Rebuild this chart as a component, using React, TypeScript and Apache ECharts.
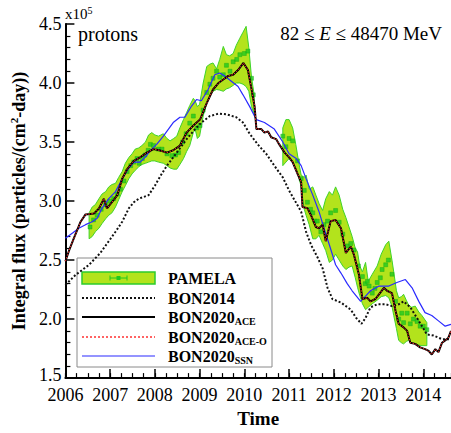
import React, { useEffect, useRef } from 'react';
import * as echarts from 'echarts';

const FONT = '"Liberation Serif", "Times New Roman", serif';

// BON2014 model (black dotted)
const bon2014: number[][] = [
  [2006.00, 2.29], [2006.23, 2.375], [2006.53, 2.46], [2006.78, 2.56], [2006.97, 2.66],
  [2007.12, 2.74], [2007.27, 2.825], [2007.42, 2.94], [2007.53, 2.99], [2007.64, 3.02],
  [2007.75, 3.035], [2007.86, 3.05], [2008.00, 3.13], [2008.12, 3.21], [2008.27, 3.30],
  [2008.49, 3.41], [2008.71, 3.525], [2008.90, 3.61], [2009.04, 3.665], [2009.23, 3.72],
  [2009.42, 3.74], [2009.60, 3.735], [2009.82, 3.71], [2009.97, 3.665], [2010.12, 3.57],
  [2010.30, 3.48], [2010.49, 3.40], [2010.67, 3.30], [2010.86, 3.20], [2011.00, 3.09],
  [2011.12, 3.01], [2011.27, 2.91], [2011.38, 2.74], [2011.49, 2.63], [2011.64, 2.52],
  [2011.75, 2.43], [2011.86, 2.265], [2011.97, 2.17], [2012.16, 2.14], [2012.38, 2.08],
  [2012.50, 2.01], [2012.62, 1.96], [2012.71, 2.01], [2012.82, 2.10], [2012.97, 2.125],
  [2013.16, 2.125], [2013.30, 2.11], [2013.45, 2.125], [2013.56, 2.15], [2013.71, 2.10],
  [2013.90, 1.985], [2014.08, 1.87], [2014.23, 1.86], [2014.42, 1.83], [2014.62, 1.83],
];

// BON2020 ACE (black solid)
const bonAce: number[][] = [
  [2006.00, 2.49], [2006.10, 2.60], [2006.19, 2.685], [2006.27, 2.76], [2006.34, 2.825],
  [2006.45, 2.887], [2006.55, 2.89], [2006.64, 2.895], [2006.75, 2.937], [2006.86, 3.02],
  [2006.93, 2.937], [2007.04, 2.99], [2007.16, 3.05], [2007.27, 3.19], [2007.38, 3.27],
  [2007.53, 3.34], [2007.67, 3.37], [2007.82, 3.41], [2007.97, 3.44], [2008.10, 3.43],
  [2008.27, 3.41], [2008.41, 3.43], [2008.56, 3.47], [2008.71, 3.58], [2008.86, 3.64],
  [2009.01, 3.69], [2009.16, 3.83], [2009.30, 3.945], [2009.42, 4.00], [2009.53, 4.03],
  [2009.64, 4.06], [2009.75, 4.07], [2009.86, 4.11], [2009.98, 4.17], [2010.08, 4.11],
  [2010.16, 3.95], [2010.23, 3.80], [2010.27, 3.61], [2010.38, 3.61], [2010.45, 3.58],
  [2010.53, 3.59], [2010.60, 3.54], [2010.71, 3.525], [2010.78, 3.48], [2010.90, 3.41],
  [2011.00, 3.37], [2011.08, 3.33], [2011.19, 3.23], [2011.27, 3.16], [2011.30, 2.95],
  [2011.41, 2.94], [2011.49, 2.88], [2011.60, 2.78], [2011.67, 2.77], [2011.75, 2.80],
  [2011.82, 2.66], [2011.93, 2.83], [2012.04, 2.84], [2012.16, 2.77], [2012.27, 2.56],
  [2012.38, 2.615], [2012.45, 2.545], [2012.56, 2.38], [2012.64, 2.17], [2012.75, 2.18],
  [2012.82, 2.15], [2012.93, 2.17], [2013.01, 2.21], [2013.12, 2.265], [2013.19, 2.24],
  [2013.30, 2.22], [2013.38, 2.07], [2013.45, 1.96], [2013.56, 1.93], [2013.64, 1.90],
  [2013.71, 1.80], [2013.82, 1.79], [2013.93, 1.76], [2014.04, 1.745], [2014.12, 1.73],
  [2014.19, 1.70], [2014.27, 1.745], [2014.34, 1.72], [2014.42, 1.80], [2014.49, 1.82],
  [2014.56, 1.84], [2014.62, 1.90],
];

// BON2020 ACE-O (red dotted) – indistinguishable from ACE at this scale
const bonAceO: number[][] = bonAce;

// BON2020 SSN (blue)
const bonSsn: number[][] = [
  [2006.00, 2.685], [2006.16, 2.73], [2006.30, 2.77], [2006.45, 2.80], [2006.60, 2.825],
  [2006.71, 2.855], [2006.82, 2.94], [2006.97, 3.02], [2007.12, 3.08], [2007.23, 3.16],
  [2007.38, 3.26], [2007.53, 3.33], [2007.67, 3.33], [2007.78, 3.37], [2007.93, 3.44],
  [2008.04, 3.48], [2008.19, 3.55], [2008.41, 3.665], [2008.56, 3.71], [2008.67, 3.71],
  [2008.82, 3.805], [2008.93, 3.86], [2009.04, 3.85], [2009.19, 3.945], [2009.34, 4.07],
  [2009.45, 4.085], [2009.56, 4.06], [2009.71, 4.015], [2009.86, 3.97], [2009.97, 3.90],
  [2010.12, 3.80], [2010.27, 3.69], [2010.45, 3.665], [2010.67, 3.61], [2010.86, 3.50],
  [2011.00, 3.40], [2011.16, 3.36], [2011.27, 3.30], [2011.38, 3.19], [2011.53, 3.05],
  [2011.67, 2.91], [2011.78, 2.77], [2011.90, 2.63], [2012.04, 2.46], [2012.16, 2.39],
  [2012.30, 2.30], [2012.41, 2.24], [2012.60, 2.15], [2012.71, 2.195], [2012.82, 2.24],
  [2013.01, 2.28], [2013.23, 2.28], [2013.41, 2.31], [2013.60, 2.335], [2013.75, 2.265],
  [2013.90, 2.15], [2014.04, 2.055], [2014.19, 2.03], [2014.34, 1.985], [2014.49, 1.94],
  [2014.62, 1.955],
];

// PAMELA uncertainty band: [time, lower, upper]
const pamelaBand1: number[][] = [
  [2006.53, 2.68, 2.90], [2006.60, 2.70, 2.95], [2006.67, 2.74, 2.97], [2006.75, 2.77, 3.02],
  [2006.82, 2.81, 3.06], [2006.90, 2.85, 3.08], [2006.97, 2.88, 3.12], [2007.04, 2.90, 3.14],
  [2007.12, 2.95, 3.15], [2007.19, 3.01, 3.20], [2007.27, 3.08, 3.25], [2007.34, 3.13, 3.32],
  [2007.42, 3.19, 3.37], [2007.49, 3.23, 3.40], [2007.56, 3.26, 3.44], [2007.64, 3.29, 3.45],
  [2007.71, 3.31, 3.47], [2007.79, 3.32, 3.50], [2007.86, 3.33, 3.56], [2007.93, 3.34, 3.58],
  [2008.00, 3.34, 3.56], [2008.08, 3.33, 3.55], [2008.19, 3.32, 3.57], [2008.27, 3.30, 3.53],
  [2008.34, 3.28, 3.51], [2008.42, 3.27, 3.53], [2008.49, 3.27, 3.55], [2008.56, 3.31, 3.62],
  [2008.64, 3.36, 3.69], [2008.71, 3.42, 3.75], [2008.78, 3.47, 3.81], [2008.86, 3.58, 3.87],
  [2008.90, 3.61, 3.85], [2008.95, 3.53, 3.80], [2009.00, 3.55, 3.82], [2009.08, 3.72, 4.00],
  [2009.16, 3.83, 4.14], [2009.23, 3.89, 4.16], [2009.30, 3.93, 4.17], [2009.38, 3.945, 4.12],
  [2009.45, 3.94, 4.20], [2009.53, 3.93, 4.31], [2009.60, 3.95, 4.24], [2009.67, 3.96, 4.23],
  [2009.75, 3.98, 4.25], [2009.82, 4.00, 4.32], [2009.90, 4.00, 4.38], [2009.97, 3.99, 4.43],
  [2010.04, 3.97, 4.48], [2010.10, 3.93, 4.30], [2010.16, 3.80, 4.05], [2010.22, 3.74, 3.90],
];
const pamelaBand2: number[][] = [
  [2010.86, 3.30, 3.62], [2010.93, 3.33, 3.69], [2011.00, 3.36, 3.69], [2011.08, 3.33, 3.62],
  [2011.15, 3.28, 3.48], [2011.22, 3.20, 3.32], [2011.27, 3.12, 3.22], [2011.34, 2.93, 3.20],
  [2011.38, 2.88, 3.22], [2011.45, 2.80, 3.10], [2011.53, 2.68, 3.12], [2011.60, 2.68, 3.05],
  [2011.67, 2.71, 2.98], [2011.75, 2.64, 2.92], [2011.82, 2.58, 3.02], [2011.90, 2.48, 3.08],
  [2011.97, 2.50, 3.05], [2012.04, 2.55, 3.12], [2012.12, 2.50, 3.05], [2012.20, 2.45, 2.93],
  [2012.27, 2.42, 2.86], [2012.34, 2.44, 2.78], [2012.41, 2.45, 2.70], [2012.48, 2.35, 2.60],
  [2012.53, 2.27, 2.57], [2012.58, 2.20, 2.45], [2012.64, 2.13, 2.40], [2012.71, 2.08, 2.48],
  [2012.77, 2.10, 2.32], [2012.86, 2.13, 2.38], [2012.97, 2.16, 2.45], [2013.06, 2.19, 2.55],
  [2013.16, 2.20, 2.63], [2013.23, 2.18, 2.66], [2013.30, 2.11, 2.50], [2013.34, 2.03, 2.40],
  [2013.40, 1.92, 2.24], [2013.45, 1.82, 2.18], [2013.51, 1.80, 2.19], [2013.56, 1.79, 2.21],
  [2013.62, 1.81, 2.16], [2013.67, 1.82, 2.12], [2013.74, 1.80, 2.10], [2013.82, 1.79, 2.11],
  [2013.90, 1.78, 2.06], [2013.97, 1.775, 2.03], [2014.08, 1.775, 1.97],
];

// PAMELA measurements (green squares)
const pamelaPoints: number[][] = [
  [2006.55, 2.78], [2006.63, 2.84], [2006.71, 2.88], [2006.80, 2.93], [2006.90, 2.97],
  [2006.99, 3.00], [2007.08, 3.02], [2007.16, 3.06], [2007.23, 3.10], [2007.31, 3.17],
  [2007.38, 3.25], [2007.46, 3.30], [2007.53, 3.33], [2007.60, 3.36], [2007.65, 3.32],
  [2007.72, 3.36], [2007.78, 3.39], [2007.85, 3.43], [2007.90, 3.48], [2007.97, 3.47],
  [2008.08, 3.44], [2008.16, 3.44], [2008.27, 3.40], [2008.38, 3.385], [2008.46, 3.39],
  [2008.53, 3.41], [2008.62, 3.50], [2008.70, 3.57], [2008.78, 3.66], [2008.86, 3.72],
  [2008.94, 3.62], [2009.01, 3.64], [2009.08, 3.77], [2009.16, 3.92], [2009.23, 3.99],
  [2009.30, 4.04], [2009.38, 4.10], [2009.45, 4.05], [2009.53, 4.07], [2009.60, 4.15],
  [2009.68, 4.10], [2009.75, 4.18], [2009.83, 4.20], [2009.90, 4.24], [2010.00, 4.25],
  [2010.08, 4.27], [2010.16, 4.04], [2010.20, 3.90],
  [2010.86, 3.55], [2010.93, 3.46], [2011.00, 3.53], [2011.08, 3.51], [2011.19, 3.34],
  [2011.27, 3.19], [2011.34, 3.09], [2011.41, 2.99], [2011.48, 2.93], [2011.53, 2.90],
  [2011.58, 2.83], [2011.63, 2.83], [2011.71, 2.74], [2011.78, 2.80], [2011.86, 2.83],
  [2011.93, 2.90], [2012.04, 2.92], [2012.12, 2.82], [2012.20, 2.72], [2012.30, 2.62],
  [2012.38, 2.64], [2012.45, 2.585], [2012.55, 2.45], [2012.64, 2.36], [2012.70, 2.30],
  [2012.75, 2.32], [2012.79, 2.28], [2012.86, 2.22], [2012.92, 2.26], [2012.97, 2.31],
  [2013.04, 2.35], [2013.08, 2.42], [2013.16, 2.46], [2013.22, 2.50], [2013.30, 2.38],
  [2013.38, 2.15], [2013.45, 2.00], [2013.52, 2.05], [2013.56, 1.97], [2013.64, 2.05],
  [2013.71, 1.96], [2013.78, 2.00], [2013.86, 1.98], [2013.93, 1.94], [2014.00, 1.94],
  [2014.08, 1.91],
];

const X_MIN = 2006;
const X_MAX = 2014.62;
const Y_MIN = 1.5;
const Y_MAX = 4.5;

const BAND_FILL = '#b3e31c';
const BAND_STROKE = '#3fd42a';
const POINT_COLOR = '#1ec81e';

export default function App() {
  const ref = useRef<HTMLDivElement>(null);

  useEffect(() => {
    if (!ref.current) return;
    const chart = echarts.init(ref.current, undefined, { renderer: 'svg' });

    const legendX0 = 82;
    const legendX1 = 155;
    const textX = 168;
    const rows = [278, 298, 317, 337, 356];
    const lgText = (y: number, main: string, sub?: string) => ({
      type: 'text',
      style: {
        x: textX,
        y,
        text: sub ? `{m|${main}}{s|${sub}}` : `{m|${main}}`,
        verticalAlign: 'middle',
        rich: {
          m: { fontFamily: FONT, fontWeight: 'bold', fontSize: 16, lineHeight: 18, fill: '#000' },
          s: { fontFamily: FONT, fontWeight: 'bold', fontSize: 10, lineHeight: 8, verticalAlign: 'bottom', fill: '#000' },
        },
      },
    });

    const option: any = {
      animation: false,
      backgroundColor: '#ffffff',
      grid: { left: 63, top: 24, right: 0, bottom: 52, containLabel: false },
      xAxis: [
        {
          type: 'value', min: X_MIN, max: X_MAX, interval: 1, position: 'bottom',
          name: 'Time', nameLocation: 'middle', nameGap: 29,
          nameTextStyle: { fontFamily: FONT, fontWeight: 'bold', fontSize: 19, color: '#000' },
          axisLine: { show: true, onZero: false, lineStyle: { color: '#000', width: 2 } },
          axisTick: { show: true, inside: true, length: 9, lineStyle: { color: '#000', width: 1.5 } },
          axisLabel: {
            show: true, margin: 10, fontFamily: FONT, fontSize: 18, lineHeight: 14, color: '#000',
            showMaxLabel: false,
            formatter: (v: number) => (Math.abs(v - Math.round(v)) < 1e-6 ? String(Math.round(v)) : ''),
          },
          splitLine: { show: false },
        },
        {
          type: 'value', min: X_MIN, max: X_MAX, interval: 0.25, position: 'bottom', gridIndex: 0,
          axisLine: { show: false, onZero: false },
          axisTick: { show: true, inside: true, length: 5, lineStyle: { color: '#000', width: 1.2 } },
          axisLabel: { show: false },
          splitLine: { show: false },
        },
      ],
      yAxis: {
        type: 'value', min: Y_MIN, max: Y_MAX, interval: 0.5,
        name: '{a|Integral flux (particles/(cm}{b|2}{a|-day))}',
        nameLocation: 'middle', nameGap: 31, nameRotate: 90,
        nameTextStyle: {
          rich: {
            a: { fontFamily: FONT, fontWeight: 'bold', fontSize: 18, lineHeight: 22, color: '#000' },
            b: { fontFamily: FONT, fontWeight: 'bold', fontSize: 11, lineHeight: 9, verticalAlign: 'top', color: '#000' },
          },
        },
        axisLine: { show: true, onZero: false, lineStyle: { color: '#000', width: 2 } },
        axisTick: { show: true, inside: true, length: 9, lineStyle: { color: '#000', width: 1.5 } },
        minorTick: { show: true, splitNumber: 5, length: 5, lineStyle: { color: '#000', width: 1.2 } },
        axisLabel: {
          show: true, margin: 4, fontFamily: FONT, fontSize: 18, lineHeight: 14, color: '#000',
          formatter: (v: number) => (Math.abs(v - Y_MIN) < 1e-6 ? `{low|${v.toFixed(1)}}` : v.toFixed(1)),
          rich: {
            low: { fontFamily: FONT, fontSize: 18, lineHeight: 14, color: '#000', padding: [0, 0, 6, 0] },
          },
        },
        splitLine: { show: false },
      },
      series: [
        {
          type: 'custom',
          name: 'PAMELA band',
          coordinateSystem: 'cartesian2d',
          clip: true,
          z: 1,
          data: [[2008, 3]],
          renderItem: (_params: any, api: any) => {
            const mk = (band: number[][]) => {
              const pts: number[][] = [];
              band.forEach((d) => pts.push(api.coord([d[0], d[2]])));
              for (let i = band.length - 1; i >= 0; i--) pts.push(api.coord([band[i][0], band[i][1]]));
              return {
                type: 'polygon',
                shape: { points: pts },
                style: { fill: BAND_FILL, stroke: BAND_STROKE, lineWidth: 1 },
              };
            };
            return { type: 'group', children: [mk(pamelaBand1), mk(pamelaBand2)] };
          },
        },
        {
          type: 'scatter',
          name: 'PAMELA',
          data: pamelaPoints,
          symbol: 'rect',
          symbolSize: 4,
          z: 2,
          itemStyle: { color: POINT_COLOR, borderColor: '#14a814', borderWidth: 0.5 },
        },
        {
          type: 'line', name: 'BON2014', data: bon2014, symbol: 'none', z: 3,
          lineStyle: { color: '#111', width: 2, type: [2, 2] },
        },
        {
          type: 'line', name: 'BON2020SSN', data: bonSsn, symbol: 'none', z: 3,
          lineStyle: { color: '#2a2aff', width: 1.2 },
        },
        {
          type: 'line', name: 'BON2020ACE', data: bonAce, symbol: 'none', z: 4,
          lineStyle: { color: '#000', width: 2 },
        },
        {
          type: 'line', name: 'BON2020ACE-O', data: bonAceO, symbol: 'none', z: 5,
          lineStyle: { color: '#ff3030', width: 1, type: [1.5, 1.5] },
        },
      ],
      graphic: [
        {
          type: 'text',
          z: 100,
          style: {
            x: 65, y: 5, verticalAlign: 'top',
            text: '{a|x10}{b|5}',
            rich: {
              a: { fontFamily: FONT, fontSize: 15, lineHeight: 18, fill: '#000' },
              b: { fontFamily: FONT, fontSize: 10, lineHeight: 8, verticalAlign: 'top', fill: '#000' },
            },
          },
        },
        {
          type: 'text', z: 100,
          style: { x: 78, y: 34, text: 'protons', verticalAlign: 'middle', font: `20px ${FONT}`, fill: '#000' },
        },
        {
          type: 'text', z: 100,
          style: {
            x: 442, y: 33, align: 'right', verticalAlign: 'middle',
            text: '{r|82 ≤ }{i|E}{r| ≤ 48470 MeV}',
            rich: {
              r: { fontFamily: FONT, fontSize: 19, fill: '#000' },
              i: { fontFamily: FONT, fontSize: 19, fontStyle: 'italic', fill: '#000' },
            },
          },
        },
        {
          type: 'group',
          z: 100,
          children: [
            { type: 'rect', shape: { x: 77, y: 258, width: 195, height: 109 }, style: { fill: '#fff', stroke: '#8a8a8a', lineWidth: 1 } },
            { type: 'rect', shape: { x: legendX0, y: 272, width: legendX1 - legendX0, height: 12 }, style: { fill: BAND_FILL, stroke: '#2ccc2c', lineWidth: 1.5 } },
            { type: 'line', shape: { x1: 110, y1: 278, x2: 127, y2: 278 }, style: { stroke: POINT_COLOR, lineWidth: 1 } },
            { type: 'line', shape: { x1: 110, y1: 275.5, x2: 110, y2: 280.5 }, style: { stroke: POINT_COLOR, lineWidth: 1 } },
            { type: 'line', shape: { x1: 127, y1: 275.5, x2: 127, y2: 280.5 }, style: { stroke: POINT_COLOR, lineWidth: 1 } },
            { type: 'rect', shape: { x: 116.5, y: 276, width: 4, height: 4 }, style: { fill: POINT_COLOR } },
            { type: 'line', shape: { x1: legendX0, y1: rows[1], x2: legendX1, y2: rows[1] }, style: { stroke: '#111', lineWidth: 2, lineDash: [2, 2] } },
            { type: 'line', shape: { x1: legendX0, y1: rows[2], x2: legendX1, y2: rows[2] }, style: { stroke: '#000', lineWidth: 2 } },
            { type: 'line', shape: { x1: legendX0, y1: rows[3], x2: legendX1, y2: rows[3] }, style: { stroke: '#ff3030', lineWidth: 1.5, lineDash: [2, 2] } },
            { type: 'line', shape: { x1: legendX0, y1: rows[4], x2: legendX1, y2: rows[4] }, style: { stroke: '#2a2aff', lineWidth: 1.2 } },
            lgText(rows[0], 'PAMELA'),
            lgText(rows[1], 'BON2014'),
            lgText(rows[2], 'BON2020', 'ACE'),
            lgText(rows[3], 'BON2020', 'ACE-O'),
            lgText(rows[4], 'BON2020', 'SSN'),
          ],
        },
      ],
    };

    chart.setOption(option);
    return () => chart.dispose();
  }, []);

  return (
    <div
      ref={ref}
      style={{ position: 'fixed', left: 0, top: 0, width: 451, height: 433, background: '#fff' }}
    />
  );
}
